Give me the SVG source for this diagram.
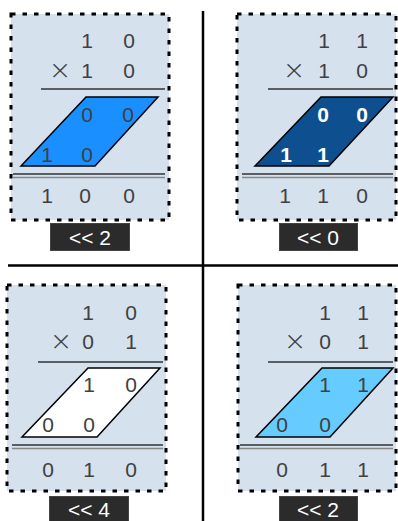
<svg xmlns="http://www.w3.org/2000/svg" width="398" height="521" viewBox="0 0 398 521">
<style>
.panel{fill:#d5e1ed;stroke:#000;stroke-width:3;stroke-dasharray:4.5 7}
.d{font-family:"Liberation Sans",Arial,sans-serif;font-size:21px;fill:#404040;text-anchor:middle}
.x{font-family:"DejaVu Sans",sans-serif;font-weight:200;font-size:27px;fill:#404040;text-anchor:middle}
.w{font-family:"Liberation Sans",Arial,sans-serif;font-size:21px;font-weight:bold;fill:#fff;text-anchor:middle}
.rule{stroke:#333;stroke-width:1.5}
.r1{stroke:#333;stroke-width:1.6}
.r2{stroke:#888;stroke-width:1.6}
.para{stroke:#000;stroke-width:1.5}
.lbl{fill:#2b2b2b;stroke:#444;stroke-width:1}
.lt{font-family:"Liberation Sans",Arial,sans-serif;font-size:21px;fill:#fff;text-anchor:middle}
.sep{stroke:#000;stroke-width:2.5}
</style>
<g id="separators">
<line class="sep" x1="203" y1="11" x2="203" y2="521"/>
<line class="sep" x1="8" y1="265.5" x2="398" y2="265.5"/>
</g>
<g id="panel-tl">
<rect class="panel" x="11" y="14" width="158" height="206"/>
<text class="d" x="87" y="47.5">1</text><text class="d" x="129" y="47.5">0</text>
<text class="x" x="60" y="79">×</text><text class="d" x="87" y="77.5">1</text><text class="d" x="129" y="77.5">0</text>
<line class="rule" x1="41" y1="89" x2="165" y2="89"/>
<polygon class="para" fill="#1a8fff" points="86,97 158,97 95,166 21,166"/>
<text class="d" x="87" y="121.5">0</text><text class="d" x="128" y="121.5">0</text>
<text class="d" x="47" y="161.5">1</text><text class="d" x="87" y="161.5">0</text>
<line class="r1" x1="13" y1="174" x2="165" y2="174"/>
<line class="r2" x1="13" y1="177.5" x2="165" y2="177.5"/>
<text class="d" x="47" y="202.5">1</text><text class="d" x="85" y="202.5">0</text><text class="d" x="129" y="202.5">0</text>
</g>
<g id="label-tl"><rect class="lbl" x="50.5" y="223.5" width="79" height="27"/><text class="lt" x="90" y="244.5">&lt;&lt; 2</text></g>
<g id="panel-tr">
<rect class="panel" x="237" y="14" width="159" height="206"/>
<text class="d" x="324" y="47.5">1</text><text class="d" x="362" y="47.5">1</text>
<text class="x" x="294" y="79">×</text><text class="d" x="324" y="77.5">1</text><text class="d" x="362" y="77.5">0</text>
<line class="rule" x1="268" y1="89" x2="393" y2="89"/>
<polygon class="para" fill="#0d4f8f" points="321,97 393,97 329,166 255,166"/>
<text class="w" x="323" y="121.5">0</text><text class="w" x="362" y="121.5">0</text>
<text class="w" x="286" y="161.5">1</text><text class="w" x="323" y="161.5">1</text>
<line class="r1" x1="242" y1="174" x2="393" y2="174"/>
<line class="r2" x1="242" y1="177.5" x2="393" y2="177.5"/>
<text class="d" x="285" y="202.5">1</text><text class="d" x="323" y="202.5">1</text><text class="d" x="362" y="202.5">0</text>
</g>
<g id="label-tr"><rect class="lbl" x="279.5" y="223.5" width="78" height="27"/><text class="lt" x="318" y="244.5">&lt;&lt; 0</text></g>
<g id="panel-bl">
<rect class="panel" x="7" y="285" width="159" height="206"/>
<text class="d" x="88" y="319.5">1</text><text class="d" x="131" y="319.5">0</text>
<text class="x" x="61" y="350">×</text><text class="d" x="88" y="348.5">0</text><text class="d" x="131" y="348.5">1</text>
<line class="rule" x1="38" y1="362" x2="163" y2="362"/>
<polygon class="para" fill="#fff" points="88,368 160,368 97,437 22,437"/>
<text class="d" x="89" y="391.5">1</text><text class="d" x="131" y="391.5">0</text>
<text class="d" x="48" y="431.5">0</text><text class="d" x="89" y="431.5">0</text>
<line class="r1" x1="12" y1="445" x2="163" y2="445"/>
<line class="r2" x1="12" y1="448.5" x2="163" y2="448.5"/>
<text class="d" x="48" y="476.5">0</text><text class="d" x="89" y="476.5">1</text><text class="d" x="131" y="476.5">0</text>
</g>
<g id="label-bl"><rect class="lbl" x="49.5" y="496.5" width="79" height="27"/><text class="lt" x="89" y="517">&lt;&lt; 4</text></g>
<g id="panel-br">
<rect class="panel" x="238" y="285" width="158" height="206"/>
<text class="d" x="325" y="319.5">1</text><text class="d" x="363" y="319.5">1</text>
<text class="x" x="295" y="350">×</text><text class="d" x="325" y="348.5">0</text><text class="d" x="363" y="348.5">1</text>
<line class="rule" x1="268" y1="362" x2="393" y2="362"/>
<polygon class="para" fill="#66ccff" points="322,368 393,368 330,437 256,437"/>
<text class="d" x="325" y="391.5">1</text><text class="d" x="363" y="391.5">1</text>
<text class="d" x="282" y="431.5">0</text><text class="d" x="325" y="431.5">0</text>
<line class="r1" x1="240" y1="445" x2="393" y2="445"/>
<line class="r2" x1="240" y1="448.5" x2="393" y2="448.5"/>
<text class="d" x="282" y="476.5">0</text><text class="d" x="325" y="476.5">1</text><text class="d" x="363" y="476.5">1</text>
</g>
<g id="label-br"><rect class="lbl" x="279.5" y="496.5" width="78" height="27"/><text class="lt" x="318" y="517">&lt;&lt; 2</text></g>
</svg>
